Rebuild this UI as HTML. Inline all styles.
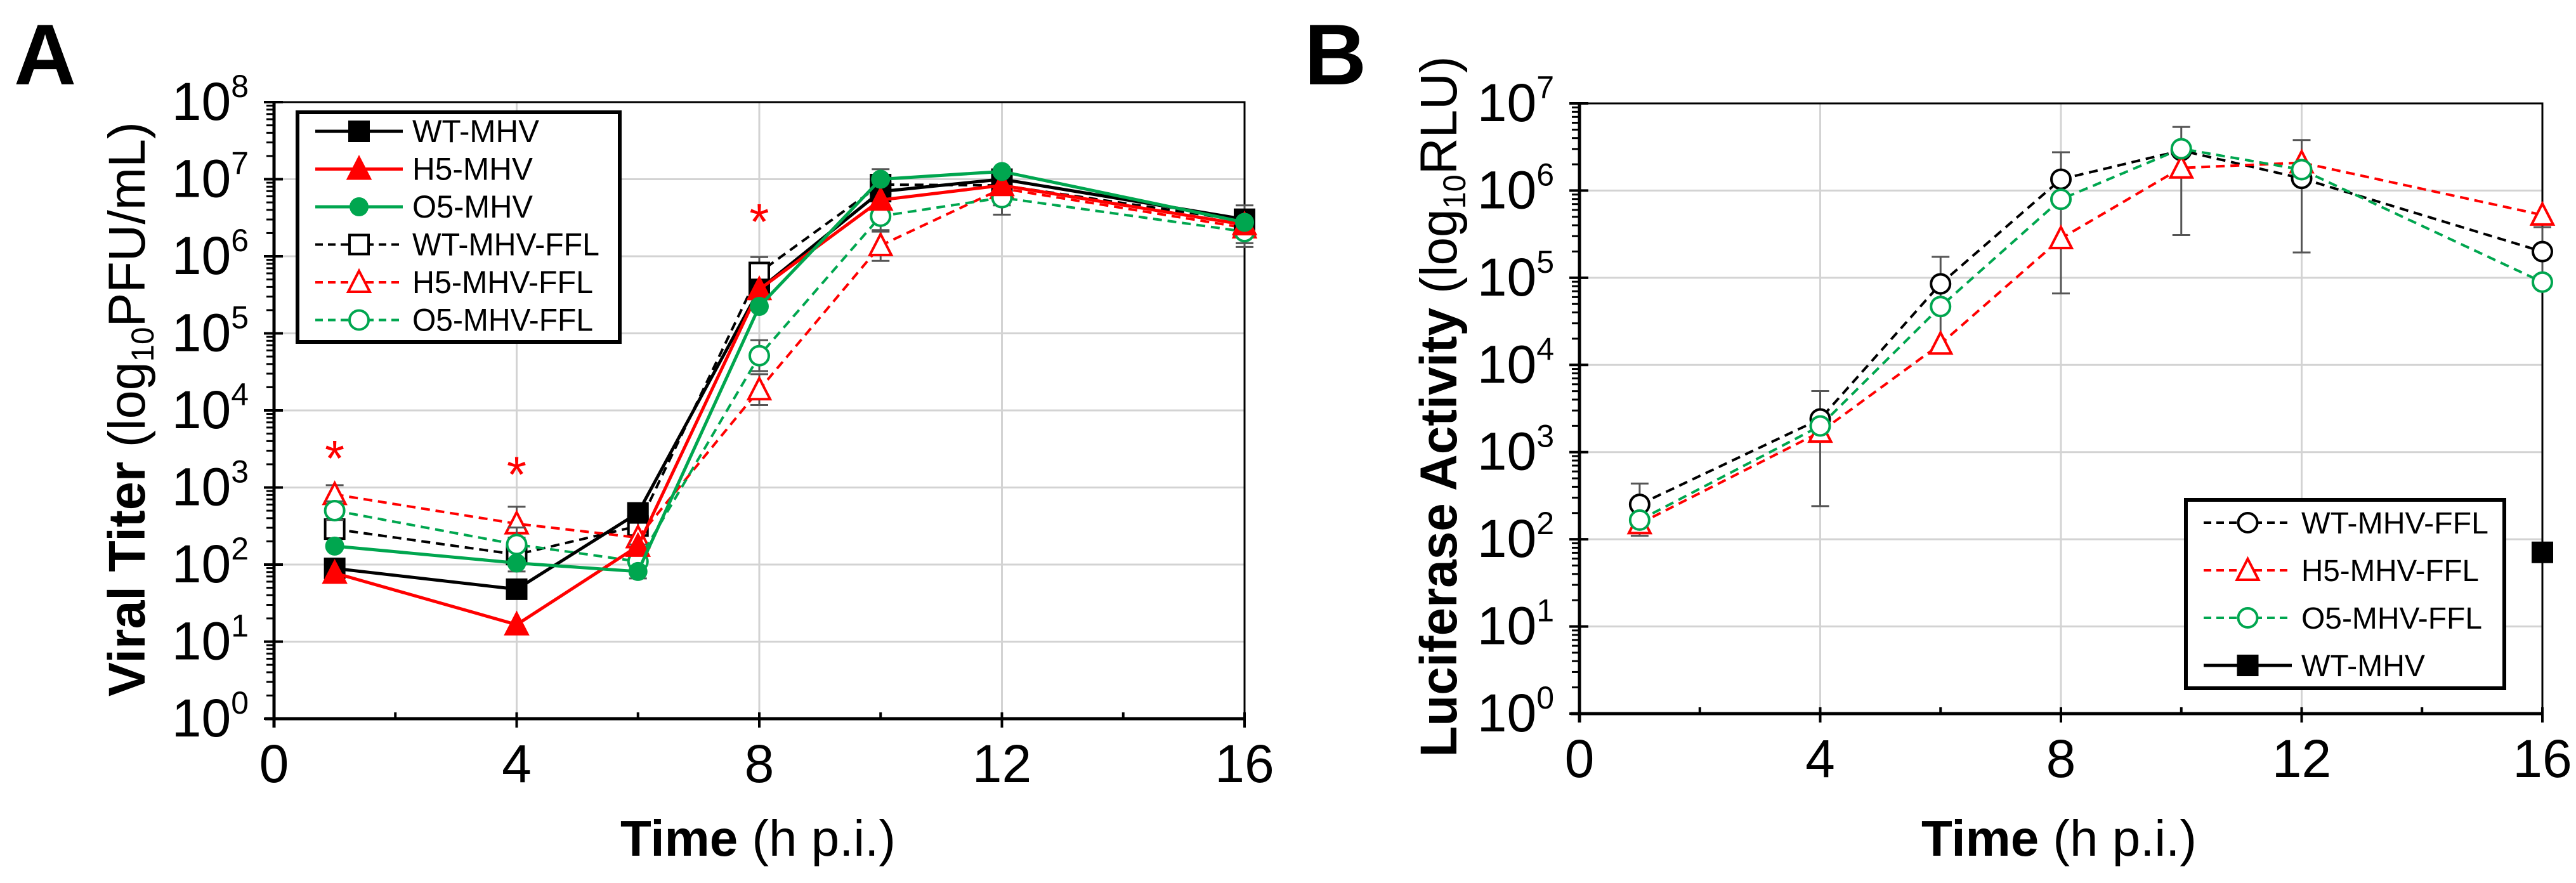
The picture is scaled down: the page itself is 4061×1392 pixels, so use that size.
<!DOCTYPE html>
<html><head><meta charset="utf-8">
<style>
html,body{margin:0;padding:0;background:#fff;}
svg{display:block;font-family:"Liberation Sans",Arial,sans-serif;}
</style></head>
<body>
<svg id="fig" width="4061" height="1392" viewBox="0 0 4061 1392" xmlns="http://www.w3.org/2000/svg">
<text x="22" y="133" font-size="136" font-weight="bold">A</text>
<text x="2056" y="133" font-size="136" font-weight="bold">B</text>
<g id="panelA"></g>
<g id="panelB"></g>
</svg>
<script>
// ---------- Data (log10 values) ----------
const timesA = [1, 4, 6, 8, 10, 12, 16];
const wtMhvA   = [1.95, 1.68, 2.67, 5.57, 6.84, 7.00, 6.48];
const h5MhvA   = [1.89, 1.22, 2.24, 5.57, 6.73, 6.92, 6.41];
const o5MhvA   = [2.24, 2.02, 1.91, 5.35, 7.00, 7.10, 6.44];
const wtFflA   = [2.46, 2.13, 2.50, 5.79, 6.93, 6.92, 6.46];
const h5FflA   = [2.91, 2.53, 2.35, 4.27, 6.14, 6.88, 6.37];
const o5FflA   = [2.70, 2.26, 2.04, 4.71, 6.52, 6.76, 6.32];
const errA     = [0.12, 0.22, 0.22, 0.20, 0.20, 0.22, 0.20];
const starTimes = [1, 4, 8];
const starLogs  = [3.48, 3.27, 6.55];
const yTicksA = [0,1,2,3,4,5,6,7,8];
const xTicks = [0,4,8,12,16];

const timesB = [1, 4, 6, 8, 10, 12, 16];
const wtFflB = [2.40, 3.38, 4.93, 6.13, 6.46, 6.14, 5.30];
const h5FflB = [2.18, 3.23, 4.24, 5.45, 6.26, 6.32, 5.72];
const o5FflB = [2.22, 3.30, 4.67, 5.90, 6.48, 6.24, 4.95];
const errBup = [0.24, 0.32, 0.31, 0.31, 0.27, 0.44, 0.28];
const errBdn = [0.36, 1.00, 0.73, 1.31, 0.97, 0.85, 0.28];
const wtMhvBtime = [16];
const wtMhvB = [1.85];
const yTicksB = [0,1,2,3,4,5,6,7];

const NS = "http://www.w3.org/2000/svg";
function mk(parent, tag, attrs){const e=document.createElementNS(NS,tag);for(const k in attrs)e.setAttribute(k,attrs[k]);parent.appendChild(e);return e;}

function marker(g, shape, x, y, color, filled){
  const s=15; let e;
  const fill = filled?color:"#fff";
  if(shape==="square") e=mk(g,"rect",{x:x-s,y:y-s,width:2*s,height:2*s,fill:fill,stroke:color,"stroke-width":4});
  else if(shape==="circle") e=mk(g,"circle",{cx:x,cy:y,r:s,fill:fill,stroke:color,"stroke-width":filled?0:4});
  else e=mk(g,"polygon",{points:`${x},${y-s-3} ${x+s+2},${y+s} ${x-s-2},${y+s}`,fill:fill,stroke:color,"stroke-width":4});
  return e;
}

function drawPanel(g, cfg){
  const X=t=>cfg.x0+(t-0)/16*(cfg.x1-cfg.x0);
  const Y=v=>cfg.yb-(v/cfg.maxLog)*(cfg.yb-cfg.yt);
  // gridlines
  cfg.yTicks.forEach(v=>{ if(v>0&&v<cfg.maxLog){const l=mk(g,"line",{x1:cfg.x0,x2:cfg.x1,y1:Y(v),y2:Y(v),stroke:"#d3d3d3","stroke-width":3});
    
    }});
  cfg.xTicks.forEach(t=>{ if(t>0&&t<16){const l=mk(g,"line",{x1:X(t),x2:X(t),y1:cfg.yt,y2:cfg.yb,stroke:"#d3d3d3","stroke-width":3});
    
    }});
  // frame
  const fr=mk(g,"rect",{x:cfg.x0,y:cfg.yt,width:cfg.x1-cfg.x0,height:cfg.yb-cfg.yt,fill:"none",stroke:"#000","stroke-width":3});
  
  
  mk(g,"line",{x1:cfg.x0,x2:cfg.x0,y1:cfg.yt,y2:cfg.yb+14,stroke:"#000","stroke-width":5});
  mk(g,"line",{x1:cfg.x0-14,x2:cfg.x1,y1:cfg.yb,y2:cfg.yb,stroke:"#000","stroke-width":5});
  // y ticks
  cfg.yTicks.forEach(v=>{
    mk(g,"line",{x1:cfg.x0-16,x2:cfg.x0+14,y1:Y(v),y2:Y(v),stroke:"#000","stroke-width":4});
    if(v<cfg.maxLog){for(let m=2;m<=9;m++){const yy=Y(v+Math.log10(m));mk(g,"line",{x1:cfg.x0-12,x2:cfg.x0,y1:yy,y2:yy,stroke:"#000","stroke-width":3});}}
    const t=mk(g,"text",{x:cfg.x0-40,y:Y(v)+28,"font-size":84,"text-anchor":"end"});
    
    
    t.textContent="10";
    const s=mk(t,"tspan",{dy:-36,"font-size":50});s.textContent=String(v);
  });
  // x ticks
  for(let t=0;t<=16;t+=2){mk(g,"line",{x1:X(t),x2:X(t),y1:cfg.yb-10,y2:cfg.yb+(t%4===0?14:0),stroke:"#000","stroke-width":4});}
  cfg.xTicks.forEach(t=>{const e=mk(g,"text",{x:X(t),y:cfg.yb+100,"font-size":84,"text-anchor":"middle"});
    
    
    e.textContent=String(t);});
  // series
  cfg.series.forEach(s=>{
    const sg=mk(g,"g",{});
    
    
    // error bars
    if(s.errUp){s.vals.forEach((v,i)=>{const x=X(s.times[i]);const a=Y(v+s.errUp[i]),b=Y(v-s.errDn[i]);
      mk(sg,"line",{x1:x,x2:x,y1:a,y2:b,stroke:"#555","stroke-width":3});
      mk(sg,"line",{x1:x-14,x2:x+14,y1:a,y2:a,stroke:"#555","stroke-width":3});
      mk(sg,"line",{x1:x-14,x2:x+14,y1:b,y2:b,stroke:"#555","stroke-width":3});});}
    const pts=s.vals.map((v,i)=>X(s.times[i])+","+Y(v)).join(" ");
    if(s.vals.length>1){const pl=mk(sg,"polyline",{points:pts,fill:"none",stroke:s.color,"stroke-width":s.dash?4:5,"stroke-dasharray":s.dash?"14,9":"none"});
      
      }
    s.vals.forEach((v,i)=>{const m=marker(sg,s.shape,X(s.times[i]),Y(v),s.color,s.filled);
      
      });
  });
  // legend
  const L=cfg.legend;
  const lg=mk(g,"g",{});
  
  
  mk(lg,"rect",{x:L.x,y:L.y,width:L.w,height:L.h,fill:"#fff",stroke:"#000","stroke-width":6});
  L.items.forEach((it,i)=>{
    const y=L.y0+i*L.dy;
    const eg=mk(lg,"g",{});
    
    
    mk(eg,"line",{x1:L.lx0,x2:L.lx1,y1:y,y2:y,stroke:it.color,"stroke-width":it.dash?4:5,"stroke-dasharray":it.dash?"12,8":"none"});
    marker(eg,it.shape,(L.lx0+L.lx1)/2,y,it.color,it.filled);
    const t=mk(eg,"text",{x:L.tx,y:y+17,"font-size":L.fs,textLength:it.tl,lengthAdjust:"spacingAndGlyphs"});
    t.textContent=it.label;
  });
}

const gA=document.getElementById("panelA");
drawPanel(gA,{x0:432,x1:1962,yt:161,yb:1133,maxLog:8,yTicks:yTicksA,xTicks:xTicks,
 series:[
  {name:"wt-mhv-ffl-series",times:timesA,vals:wtFflA,color:"#000",shape:"square",filled:false,dash:true,errUp:errA,errDn:errA},
  {name:"h5-mhv-ffl-series",times:timesA,vals:h5FflA,color:"#ff0000",shape:"tri",filled:false,dash:true,errUp:errA,errDn:errA},
  {name:"o5-mhv-ffl-series",times:timesA,vals:o5FflA,color:"#00a64f",shape:"circle",filled:false,dash:true,errUp:errA,errDn:errA},
  {name:"wt-mhv-series",times:timesA,vals:wtMhvA,color:"#000",shape:"square",filled:true,dash:false},
  {name:"h5-mhv-series",times:timesA,vals:h5MhvA,color:"#ff0000",shape:"tri",filled:true,dash:false},
  {name:"o5-mhv-series",times:timesA,vals:o5MhvA,color:"#00a64f",shape:"circle",filled:true,dash:false}
 ],
 legend:{x:469,y:177,w:508,h:362,y0:207,dy:59.5,lx0:497,lx1:635,tx:650,fs:50,items:[
  {label:"WT-MHV",color:"#000",shape:"square",filled:true,dash:false,tl:200},
  {label:"H5-MHV",color:"#ff0000",shape:"tri",filled:true,dash:false,tl:190},
  {label:"O5-MHV",color:"#00a64f",shape:"circle",filled:true,dash:false,tl:190},
  {label:"WT-MHV-FFL",color:"#000",shape:"square",filled:false,dash:true,tl:295},
  {label:"H5-MHV-FFL",color:"#ff0000",shape:"tri",filled:false,dash:true,tl:285},
  {label:"O5-MHV-FFL",color:"#00a64f",shape:"circle",filled:false,dash:true,tl:285}
 ]}});
// stars
starTimes.forEach((t,i)=>{
  const x=432+t/16*1530, y=1133-starLogs[i]/8*972;
  const s=mk(gA,"text",{x:x,y:y+40,"font-size":80,fill:"#ff0000","text-anchor":"middle"});
  
  
  s.textContent="*";
});

const gB=document.getElementById("panelB");
drawPanel(gB,{x0:2490,x1:4008,yt:163,yb:1125,maxLog:7,yTicks:yTicksB,xTicks:xTicks,
 series:[
  {name:"wt-mhv-ffl-series",times:timesB,vals:wtFflB,color:"#000",shape:"circle",filled:false,dash:true,errUp:errBup,errDn:errBdn},
  {name:"h5-mhv-ffl-series",times:timesB,vals:h5FflB,color:"#ff0000",shape:"tri",filled:false,dash:true},
  {name:"o5-mhv-ffl-series",times:timesB,vals:o5FflB,color:"#00a64f",shape:"circle",filled:false,dash:true},
  {name:"wt-mhv-series",times:wtMhvBtime,vals:wtMhvB,color:"#000",shape:"square",filled:true,dash:false}
 ],
 legend:{x:3446,y:788,w:502,h:297,y0:824,dy:75,lx0:3474,lx1:3613,tx:3628,fs:48,items:[
  {label:"WT-MHV-FFL",color:"#000",shape:"circle",filled:false,dash:true,tl:295},
  {label:"H5-MHV-FFL",color:"#ff0000",shape:"tri",filled:false,dash:true,tl:280},
  {label:"O5-MHV-FFL",color:"#00a64f",shape:"circle",filled:false,dash:true,tl:285},
  {label:"WT-MHV",color:"#000",shape:"square",filled:true,dash:false,tl:195}
 ]}});

// axis titles
function vTitle(g,cx,cy,len,bold,rest,name){
  const t=mk(g,"text",{x:0,y:0,"font-size":82,"text-anchor":"middle",transform:`translate(${cx},${cy}) rotate(-90)`,textLength:len,lengthAdjust:"spacingAndGlyphs"});
  
  
  const a=mk(t,"tspan",{"font-weight":"bold"});a.textContent=bold;
  const b=mk(t,"tspan",{});b.textContent=" (log";
  const c=mk(t,"tspan",{"font-size":50,dy:14});c.textContent="10";
  const d=mk(t,"tspan",{dy:-14});d.textContent=rest;
}
vTitle(gA,228,645,906,"Viral Titer","PFU/mL)","y-axis-title-a");
vTitle(gB,2296,641,1105,"Luciferase Activity","RLU)","y-axis-title-b");
function xTitle(g,cx,name){
  const t=mk(g,"text",{x:cx,y:1349,"font-size":80,"text-anchor":"middle",textLength:434,lengthAdjust:"spacingAndGlyphs"});
  
  
  const a=mk(t,"tspan",{"font-weight":"bold"});a.textContent="Time";
  const b=mk(t,"tspan",{});b.textContent=" (h p.i.)";
}
xTitle(gA,1195,"x-axis-title-a");
xTitle(gB,3246,"x-axis-title-b");
</script>
</body></html>
